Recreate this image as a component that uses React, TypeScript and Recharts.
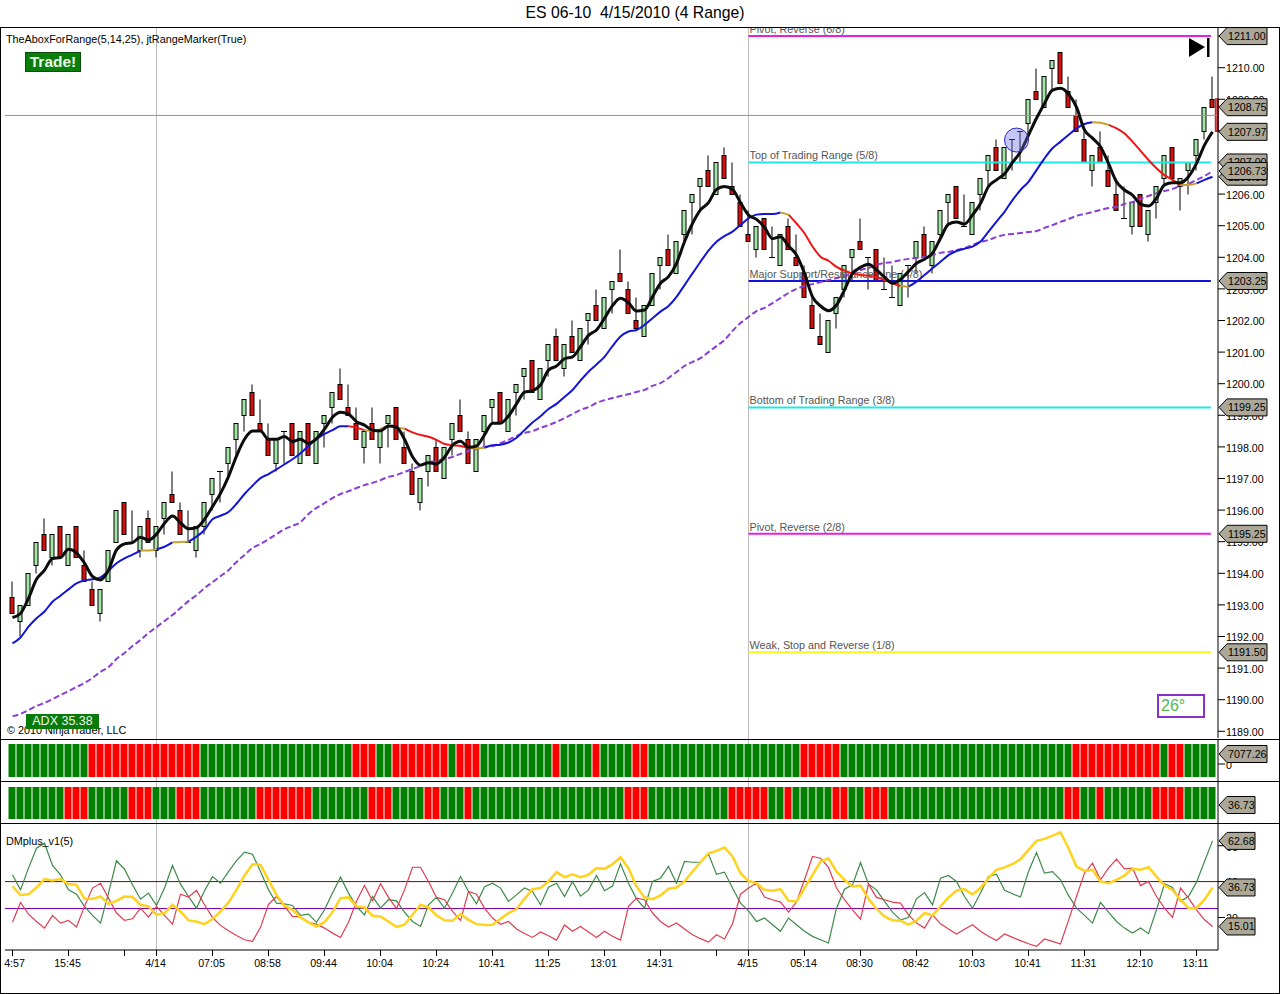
import React from 'react';
import { Bar, Cell, ComposedChart, Line, ReferenceArea, ReferenceDot, ReferenceLine, XAxis, YAxis } from 'recharts';

const FONT = '"Liberation Sans", Arial, sans-serif';

// OHLC of the 4 range bars
const opens = [
  1193.25,1192.5,1193,1194.25,1195.25,1194.5,1195.5,1194.25,1195.5,1194.25,
  1193.5,1192.75,1193.75,1195,1196.25,1195,1194.75,1195.75,1194.75,1195.75,
  1196.5,1196,1195,1194.75,1195.5,1196.5,1197.25,1197.5,1198.25,1199,
  1199.75,1198.75,1198.25,1197.5,1198.5,1198.75,1197.5,1198.75,1197.5,1198.75,
  1199.25,1200,1199.25,1198.75,1198,1198.75,1198,1198.75,1199.25,1198,
  1197.25,1196.25,1197.25,1198,1197,1198.25,1199,1198.25,1197.25,1198.5,
  1199.25,1199.75,1198.5,1199.75,1200.25,1200.75,1199.5,1200.75,1201.5,1200.5,
  1201.5,1200.75,1202,1202.5,1201.75,1203,1203.5,1203,1202,1201.5,
  1202.5,1203.75,1204.25,1203.5,1204.75,1205.75,1206.25,1206.75,1206,1207.25,
  1206.25,1205.75,1204.75,1204.25,1205.25,1204,1203.75,1205,1204,1203.5,
  1202.5,1201.5,1201,1202.25,1203,1204,1204.5,1204,1204.25,1203,
  1202.75,1202.5,1203.75,1204,1204.75,1203.75,1204.75,1205.75,1206.25,1205,
  1204.75,1206,1206.75,1207.5,1206.5,1207.75,1208,1208.25,1209.25,1208.75,
  1210,1210.5,1209.25,1208.5,1207.75,1206.75,1207.5,1206.75,1206,1205.25,
  1205,1206,1204.75,1205.75,1206.5,1207.5,1206.25,1206.75,1207.25,1208,1209,
];
const closes = [
  1192.75,1193,1194,1195,1194.75,1195.25,1194.5,1195.25,1194.5,1193.75,
  1193,1193.5,1194.75,1196,1195.25,1195,1195.5,1195,1195.5,1196.25,
  1196.25,1195.25,1195,1195.5,1196.25,1197,1197.25,1198,1198.75,1199.5,
  1199,1198.5,1197.75,1198.25,1198.5,1197.75,1198.5,1197.75,1198.5,1199,
  1199.75,1199.5,1199,1198.25,1198.5,1198.25,1198.5,1199,1198.25,1197.5,
  1196.5,1197,1197.75,1197.25,1198,1198.75,1198.5,1197.5,1198.25,1199,
  1199.5,1198.75,1199.5,1200,1200.5,1199.75,1200.5,1201.25,1200.75,1201.25,
  1201,1201.75,1202.25,1202,1202.75,1203.25,1203.25,1202.25,1201.75,1202.5,
  1203.5,1204,1203.75,1204.5,1205.5,1206,1206.5,1206.25,1207,1206.5,
  1206,1205,1204.5,1205,1204.25,1204,1204.75,1204.25,1203.75,1202.75,
  1201.75,1201.25,1202,1202.75,1203.75,1204.25,1204.25,1204,1203.25,1203,
  1202.75,1203.5,1203.75,1204.5,1204,1204.5,1205.5,1206,1205.25,1205,
  1205.75,1206.5,1207.25,1206.75,1207.5,1207.75,1208,1209,1209,1209.75,
  1210.25,1209.5,1208.75,1208,1207,1207.25,1207,1206.25,1205.5,1205.25,
  1205.75,1205,1205.5,1206.25,1207.25,1206.5,1206.5,1207,1207.75,1208.75,1208.75,
];
const highs = [
  1193.75,1193,1194,1195,1195.75,1195.25,1195.5,1195.25,1195.5,1194.75,
  1193.75,1193.5,1194.75,1196,1196.25,1196,1195.5,1196,1195.5,1196.25,
  1197.25,1196.25,1196,1195.5,1196.25,1197,1197.25,1198,1198.75,1199.5,
  1200,1199.5,1198.75,1198.25,1198.5,1198.75,1198.5,1198.75,1198.5,1199,
  1199.75,1200.5,1200,1199.25,1198.5,1199.25,1198.5,1199,1199.25,1198.5,
  1197.5,1197,1197.75,1198.25,1198,1198.75,1199.5,1198.5,1198.25,1199,
  1199.5,1199.75,1199.5,1200,1200.5,1200.75,1200.5,1201.25,1201.75,1201.25,
  1202,1201.75,1202.25,1203,1202.75,1203.25,1204.25,1203.25,1202.75,1202.5,
  1203.5,1204,1204.75,1204.5,1205.5,1206,1206.5,1207.25,1207,1207.5,
  1207,1206,1205.5,1205,1205.25,1205,1204.75,1205.25,1204.75,1203.75,
  1202.75,1202.25,1202,1202.75,1203.75,1204.25,1205.25,1204,1204.25,1204,
  1203.75,1203.5,1203.75,1204.5,1205,1204.5,1205.5,1206,1206.25,1206,
  1205.75,1206.5,1207.25,1207.75,1207.5,1207.75,1208,1209,1210,1209.75,
  1210.25,1210.5,1209.75,1209,1208,1207.25,1208,1207.25,1206.5,1206.25,
  1205.75,1206,1205.5,1206.25,1207.25,1207.5,1206.5,1207,1207.75,1208.75,1209.75,
];
const lows = [
  1192.75,1192,1193,1194,1194.75,1194.25,1194.5,1194.25,1194.5,1193.75,
  1193,1192.5,1193.75,1195,1195.25,1195,1194.5,1195,1194.5,1195.25,
  1196.25,1195.25,1195,1194.5,1195.25,1196,1196.25,1197,1197.75,1198.5,
  1199,1198.5,1197.75,1197.25,1197.5,1197.75,1197.5,1197.75,1197.5,1198,
  1198.75,1199.5,1199,1198.25,1197.5,1198.25,1197.5,1198,1198.25,1197.5,
  1196.5,1196,1196.75,1197.25,1197,1197.75,1198.5,1197.5,1197.25,1198,
  1198.75,1198.75,1198.5,1199,1199.5,1199.75,1199.5,1200.25,1200.75,1200.25,
  1201,1200.75,1201.25,1202,1201.75,1202.25,1203.25,1202.25,1201.75,1201.5,
  1202.5,1203,1203.75,1203.5,1204.5,1204.75,1205.5,1206.25,1206,1206.5,
  1206,1205,1204.5,1204,1204.25,1204,1203.75,1204.25,1203.75,1202.75,
  1201.75,1201.25,1201,1201.75,1202.75,1203.25,1204.25,1203,1203.25,1203,
  1202.75,1202.5,1202.75,1203.5,1204,1203.5,1204.5,1205,1205.25,1205,
  1204.75,1205.5,1206.25,1206.75,1206.5,1206.75,1207,1207.75,1209,1208.75,
  1209.25,1209.5,1208.75,1208,1207,1206.25,1207,1206.25,1205.5,1205.25,
  1204.75,1205,1204.5,1205.25,1206.25,1206.5,1205.5,1206,1206.75,1207.75,1208.75,
];

// moving averages
const fastMa = [
  1192.6,1192.73,1193.21,1193.81,1194.1,1194.47,1194.5,1194.76,1194.65,1194.32,
  1193.9,1193.79,1194.1,1194.74,1194.93,1194.97,1195.14,1195.05,1195.24,1195.58,
  1195.81,1195.6,1195.41,1195.45,1195.71,1196.11,1196.53,1197.06,1197.71,1198.24,
  1198.5,1198.5,1198.24,1198.24,1198.33,1198.17,1198.24,1198.11,1198.26,1198.56,
  1198.94,1199.1,1199.04,1198.8,1198.69,1198.53,1198.51,1198.66,1198.62,1198.24,
  1197.69,1197.42,1197.5,1197.46,1197.67,1198.05,1198.18,1197.99,1198.03,1198.38,
  1198.75,1198.75,1198.98,1199.36,1199.73,1199.78,1199.96,1200.43,1200.56,1200.79,
  1200.85,1201.17,1201.53,1201.7,1202.07,1202.47,1202.7,1202.56,1202.3,1202.33,
  1202.75,1203.18,1203.39,1203.81,1204.49,1205.07,1205.5,1205.73,1206.15,1206.24,
  1206.15,1205.73,1205.34,1205.2,1204.95,1204.59,1204.65,1204.36,1204.07,1203.49,
  1202.75,1202.46,1202.31,1202.49,1202.97,1203.49,1203.68,1203.78,1203.6,1203.37,
  1203.18,1203.3,1203.55,1203.81,1203.94,1204.13,1204.6,1205.05,1205.12,1205.05,
  1205.34,1205.7,1206.24,1206.45,1206.64,1207,1207.34,1207.87,1208.4,1208.87,
  1209.29,1209.35,1209.17,1208.75,1208.03,1207.77,1207.5,1206.97,1206.39,1206.13,
  1205.97,1205.68,1205.62,1205.87,1206.29,1206.36,1206.36,1206.55,1206.97,1207.55,1207.97,
];
const midMa = [
  1191.78,1191.97,1192.31,1192.58,1192.79,1193.1,1193.29,1193.49,1193.68,1193.77,
  1193.81,1193.87,1194.08,1194.32,1194.47,1194.59,1194.72,1194.72,1194.76,1194.84,
  1194.98,1194.99,1195,1195.16,1195.37,1195.71,1195.82,1195.94,1196.2,1196.51,
  1196.77,1197.01,1197.14,1197.29,1197.45,1197.61,1197.8,1198.03,1198.24,1198.41,
  1198.53,1198.65,1198.65,1198.61,1198.53,1198.51,1198.56,1198.66,1198.61,1198.58,
  1198.46,1198.38,1198.32,1198.22,1198.09,1198.05,1198.03,1197.97,1197.95,1197.97,
  1198.05,1198.07,1198.14,1198.29,1198.53,1198.77,1198.97,1199.2,1199.36,1199.58,
  1199.8,1200.1,1200.38,1200.61,1200.85,1201.19,1201.49,1201.65,1201.7,1201.86,
  1202.07,1202.28,1202.46,1202.75,1203.12,1203.49,1203.86,1204.21,1204.49,1204.67,
  1204.81,1205.02,1205.23,1205.35,1205.37,1205.37,1205.42,1205.35,1205.07,1204.76,
  1204.34,1204.02,1203.89,1203.7,1203.58,1203.49,1203.44,1203.42,1203.37,1203.28,
  1203.18,1203.09,1203.07,1203.23,1203.44,1203.65,1203.86,1204.07,1204.2,1204.27,
  1204.34,1204.5,1204.81,1205.13,1205.44,1205.81,1206.13,1206.39,1206.76,1207.13,
  1207.45,1207.66,1207.87,1208.08,1208.22,1208.27,1208.26,1208.19,1208.08,1207.92,
  1207.66,1207.37,1207.08,1206.82,1206.6,1206.45,1206.29,1206.29,1206.34,1206.45,1206.55,
];
const slowMa = [
  1189.48,1189.55,1189.67,1189.8,1189.9,1190.02,1190.15,1190.27,1190.4,1190.53,
  1190.69,1190.88,1191.03,1191.29,1191.48,1191.7,1191.89,1192.11,1192.3,1192.49,
  1192.68,1192.9,1193.12,1193.31,1193.53,1193.72,1193.91,1194.1,1194.36,1194.58,
  1194.8,1194.93,1195.08,1195.24,1195.4,1195.5,1195.62,1195.88,1196.07,1196.22,
  1196.38,1196.51,1196.6,1196.7,1196.79,1196.86,1196.95,1197.05,1197.11,1197.21,
  1197.3,1197.4,1197.52,1197.55,1197.62,1197.68,1197.78,1197.87,1197.93,1198,
  1198.03,1198.12,1198.22,1198.35,1198.44,1198.5,1198.6,1198.69,1198.79,1198.91,
  1199.04,1199.17,1199.26,1199.39,1199.48,1199.55,1199.61,1199.67,1199.74,1199.8,
  1199.93,1200.02,1200.18,1200.37,1200.56,1200.69,1200.81,1201,1201.19,1201.38,
  1201.67,1201.92,1202.11,1202.3,1202.4,1202.55,1202.71,1202.87,1203,1203.09,
  1203.15,1203.22,1203.28,1203.34,1203.41,1203.5,1203.6,1203.66,1203.76,1203.82,
  1203.85,1203.91,1203.95,1203.98,1204.01,1204.07,1204.14,1204.17,1204.23,1204.29,
  1204.39,1204.48,1204.55,1204.64,1204.71,1204.74,1204.77,1204.8,1204.83,1204.93,
  1205.02,1205.12,1205.21,1205.31,1205.37,1205.43,1205.5,1205.56,1205.59,1205.69,
  1205.75,1205.85,1205.94,1206.03,1206.1,1206.16,1206.26,1206.32,1206.45,1206.57,1206.73,
];
// runs of bars where midMa is rising, turning or falling
const midMaUp = [[0,16],[18,20],[22,42],[46,47],[59,96],[112,135],[148,150]];
const midMaTurn = [[16,18],[20,22],[44,46],[47,49],[57,59],[96,97],[111,112],[135,137],[146,148]];
const midMaDown = [[42,44],[49,57],[97,111],[137,146]];

// trading range levels
const levels = [
  { price: 1211, name: 'Pivot, Reverse (6/8)', kind: 'pivot' },
  { price: 1207, name: 'Top of Trading Range (5/8)', kind: 'range' },
  { price: 1203.25, name: 'Major Support/Resistance Line (4/8)', kind: 'major' },
  { price: 1199.25, name: 'Bottom of Trading Range (3/8)', kind: 'range' },
  { price: 1195.25, name: 'Pivot, Reverse (2/8)', kind: 'pivot' },
  { price: 1191.5, name: 'Weak, Stop and Reverse (1/8)', kind: 'weak' },
];
const priceTags = [1211, 1203.25, 1199.25, 1195.25, 1191.5, 1208.75, 1207.97, 1206.55, 1207, 1206.73];
const priceTicks = [1189,1190,1191,1192,1193,1194,1195,1196,1197,1198,1199,1200,1201,1202,1203,1204,1205,1206,1207,1208,1209,1210,1211];
const lastPriceLine = 1208.49;
const formingBar = [1209, 1208];
const markerBar = 125.5;
const markerPrice = 1207.71;

// red runs of the two colour strips, everything else is green
const stripOneRed = [[10,23],[43,45],[48,54],[56,58],[68,68],[73,73],[78,79],[99,103],[133,143],[145,146]];
const stripTwoRed = [[7,9],[15,17],[21,23],[31,37],[45,47],[52,53],[57,57],[77,79],[90,94],[97,97],[103,104],[107,109],[132,133],[136,136],[143,146]];

// DMplus panel
const dmPlus = [
  43.8,35.4,47.5,58.6,61.4,49,43.8,35.4,33,26.2,
  21.2,16.9,33.6,51.6,46.9,38.2,30.2,33.6,26.7,36.4,
  49,38.6,31.7,25.2,34.9,42.8,39.1,45.6,51.7,56.4,
  55.3,45.6,35.4,28,27.6,26.7,21.2,21.9,17.3,24.3,
  33.6,42.5,33.6,26.2,21.5,31.7,25.2,29.9,29.3,23,
  17.8,15,27.1,31.2,25.2,33.6,42.8,34.5,27.6,37.1,
  39.1,36.4,29,32.6,36.4,34.5,27.1,36.9,39.1,31.7,
  40.1,31.9,35.4,43.4,34.9,37.5,49.9,39.1,30.4,25.2,
  40.1,41.9,48.4,39.1,51.2,50.8,50.8,55.3,44.1,45.3,
  36.4,28,23.7,17.8,19.7,16,12.3,19.7,16,12.3,
  9.5,7.6,5.8,25.2,35.8,38.2,50.6,38.6,35.4,29,
  23,18.7,20,30.4,33.9,27.1,41.9,43.4,40.1,31.7,
  25.2,33.6,42.8,44.1,35.2,33.2,31.4,45.6,56.2,44.7,
  45.6,41,32.3,25.2,21.2,16.9,28.4,23,17.8,14.1,
  11.3,14.1,11,24.3,38.8,36.7,29,31.7,39.7,51.2,62.68,
];
const dmMinus = [
  17.3,28.4,21.9,17.8,14.1,21.2,16.9,18.4,14.7,26.2,
  36.4,39.1,30.8,22.5,18.4,19.3,25.2,20.2,26.2,21.2,
  16.3,33,31.4,35.1,27.1,20,15.6,12.6,10,7.6,
  6.7,14.5,27.4,31.7,26.2,20.6,20.4,17.3,16.3,14.1,
  11.3,8.9,17.4,29,37.8,29.3,38.8,31.2,24.9,35.4,
  48,48,40.1,31.2,29.9,23.4,18.4,34.5,33,25.2,
  19.7,16.2,17.8,13.6,11.1,8.9,11.9,9.8,7.4,15.8,
  12.3,15,11.9,8.9,12.3,9.5,7.4,26.2,30.8,29.9,
  22.5,17.8,14.7,16.9,13.6,10.4,8.2,6.3,10.4,8,
  16.5,33,36.4,39.1,31.4,29.9,28.6,23,28.6,41,
  54,53,47.9,36.4,29.9,24.3,19.1,38.6,31.2,29.9,
  28.6,28,21.5,16.9,14.1,21.5,16.5,13.6,10.8,13.4,
  16,12.3,9.5,7.2,10.8,8.9,7.1,5.4,3.9,8,
  6.7,5.2,18.4,31.7,44.7,50.3,41,47.5,52.5,47.1,
  47.5,37.8,40.1,31.7,25.2,20,36.4,30.8,24.3,18.7,15.01,
];
const dmAverage = [
  37.3,32.6,33,36.7,41.4,40.6,41.4,38.6,38.2,30.4,
  30.4,31.7,27.6,29.3,31.7,31.4,27.1,26.2,21.5,22.5,
  27.1,23.4,18.4,17.8,16.3,19.1,23.4,28.4,35.4,43.4,
  49.7,49.3,41,32.6,26.5,24.3,20,17.3,15,17.4,
  23,30.8,31.2,26.2,25.6,21,20.6,17.8,14.8,16,
  21.5,27.1,25.6,21.2,18.4,18.2,21.9,18.7,16.3,15.8,
  16,19.3,22.5,24.7,30.4,35.8,36.4,40.1,45.3,42.5,
  44,42.5,43.8,47.5,47.1,49.7,53.6,47.5,37.3,31.2,
  30.2,32.3,36,36.7,40.1,45.6,50.8,55.8,57.1,59,
  54,44.7,40.4,39.1,35.4,34.9,35.8,29.3,28.9,36.4,
  43.8,51.2,53,45.6,41,37.3,37.8,30.4,24.9,20.6,
  18.4,18.2,16,18.2,22.5,21.2,26.2,31.2,34.9,35.8,
  32.8,36.4,41.9,46.6,47.9,49.7,52.5,57.7,62.7,63.8,
  65.6,67.5,58.6,48.4,46,46.6,40.1,39.1,41,43.4,
  47.1,46.6,48,42.8,37.8,35.4,29.9,25.2,25.2,29.9,36.73,
];
const dmUpperLine = 40;
const dmLowerLine = 25;
const dmTicks = [20, 40, 60];
const dmTags = [62.68, 36.73, 15.01];

// x axis
const timeTickBars = [0,7,14,18,25,32,39,46,53,60,67,74,81,88,92,99,106,113,120,127,134,141,148];
const timeTickLabels = ['4:57','15:45','','4/14','07:05','08:58','09:44','10:04','10:24','10:41','11:25','13:01','14:31','','4/15','05:14','08:30','08:42','10:03','10:41','11:31','12:10','13:11'];
const sessionBreaks = [18, 92];

const inRuns = (i: number, runs: number[][]) => runs.some(([a, b]) => i >= a && i <= b);

const barData = opens.map((open, i) => ({
  i,
  open,
  close: closes[i],
  high: highs[i],
  low: lows[i],
  range: [lows[i], highs[i]],
  fastMa: fastMa[i],
  slowMa: slowMa[i],
  midUp: inRuns(i, midMaUp) ? midMa[i] : null,
  midTurn: inRuns(i, midMaTurn) ? midMa[i] : null,
  midDown: inRuns(i, midMaDown) ? midMa[i] : null,
  stripOne: [-13, 20],
  stripTwo: [-13, 19],
  dmPlus: dmPlus[i],
  dmMinus: dmMinus[i],
  dmAverage: dmAverage[i],
}));

const X_DOMAIN: [number, number] = [-0.9375, 150.6875];
const X_END = X_DOMAIN[1];
const LEVEL_END = 149.8;
const CHART_WIDTH = 1280;
const PRICE_DOMAIN: [number, number] = [1188.788, 1211.256];
const STRIP_DOMAIN: [number, number] = [-17, 24];
const DM_DOMAIN: [number, number] = [1.89, 72.1];
const TEXT_SIZE = 10.8;

const levelColors: Record<string, string> = { pivot: '#e81ee8', range: '#22e6e6', major: '#1212d8', weak: '#f6f622' };
const axisTick = { fill: '#000', fontSize: 10.67, fontFamily: FONT, dy: 1 };

const Candle = (props: any) => {
  const { x, y, width, height, payload } = props;
  const cx = x + width / 2;
  const top = Math.min(y, y + height);
  const pxPerPoint = Math.abs(height) / (payload.high - payload.low);
  const yOf = (v: number) => Math.round(top + (payload.high - v) * pxPerPoint) + 0.5;
  const bodyTop = yOf(Math.max(payload.open, payload.close));
  const bodyBottom = yOf(Math.min(payload.open, payload.close));
  const doji = payload.open === payload.close;
  return (
    <g>
      <line x1={cx} x2={cx} y1={yOf(payload.high)} y2={yOf(payload.low)} stroke="#000" />
      {doji ? (
        <line x1={cx - 3} x2={cx + 3} y1={bodyTop} y2={bodyTop} stroke="#000" />
      ) : (
        <rect
          x={cx - 2}
          y={bodyTop}
          width={4}
          height={bodyBottom - bodyTop}
          fill={payload.close > payload.open ? '#a2e6a6' : '#dc0c0c'}
          stroke="#000"
        />
      )}
    </g>
  );
};

const Tag = (props: any) => {
  const { cx, cy, label, width } = props;
  const x = cx + 1;
  const h = 8.5;
  return (
    <g>
      <path
        d={`M${x} ${cy} L${x + 8} ${cy - h} L${x + width} ${cy - h} L${x + width} ${cy + h} L${x + 8} ${cy + h} Z`}
        fill="#aca899"
        stroke="#000"
      />
      <text x={x + 9} y={cy + 4} fontSize={10.67} fontFamily={FONT} fill="#000">{label}</text>
    </g>
  );
};

const LevelLabel = (props: any) => (
  <text x={props.viewBox.x + 1} y={props.viewBox.y - 3} fontSize={TEXT_SIZE} fontFamily={FONT} fill="#555">{props.text}</text>
);

const TimeTick = (props: any) => {
  const { x, y, payload, index } = props;
  return (
    <text x={x + (index === 0 ? 2 : -1)} y={y + 8} textAnchor="middle" fontSize={10.67} fontFamily={FONT} fill="#000">
      {timeTickLabels[timeTickBars.indexOf(payload.value)]}
    </text>
  );
};

const XHidden = () => <XAxis dataKey="i" type="number" domain={X_DOMAIN} hide />;
// a chart with no series draws no reference marks, so the layers carry this unstroked one
const Carrier = () => <Line dataKey="i" stroke="none" dot={false} isAnimationActive={false} />;

// the grey session lines lie under every panel
const SessionLines = () => (
  <div style={{ position: 'absolute', left: 0, top: 28 }}>
    <ComposedChart width={CHART_WIDTH} height={922} data={barData} margin={{ top: 0, right: 62, bottom: 0, left: 5 }}>
      {XHidden()}
      <YAxis hide type="number" domain={[0, 1]} allowDataOverflow />
      {Carrier()}
      {sessionBreaks.map((b) => <ReferenceLine key={b} x={b} stroke="#bdbdbd" />)}
    </ComposedChart>
  </div>
);

// value tags lie over the axis labels, so they get a chart of their own
const TagLayer = ({ top, height, bottom = 0, plotTop = 0, domain, tags }: any) => (
  <div style={{ position: 'absolute', left: 0, top }}>
    <ComposedChart width={CHART_WIDTH} height={height} data={barData} margin={{ top: plotTop, right: 62, bottom, left: 5 }}>
      {XHidden()}
      <YAxis hide type="number" domain={domain} allowDataOverflow />
      {Carrier()}
      {tags.map((t: any) => (
        <ReferenceDot key={t.y} x={X_END} y={t.y} r={0} shape={(s: any) => <Tag {...s} label={t.label} width={t.width} />} />
      ))}
    </ComposedChart>
  </div>
);

const StripChart = ({ top, dataKey, redRuns, tick }: any) => (
  <div style={{ position: 'absolute', left: 0, top }}>
    <ComposedChart width={CHART_WIDTH} height={41} data={barData} margin={{ top: 0, right: 0, bottom: 0, left: 5 }}>
      {XHidden()}
      <YAxis
        orientation="right"
        width={62}
        type="number"
        domain={STRIP_DOMAIN}
        ticks={tick}
        tickSize={7}
        tickMargin={1}
        interval={0}
        stroke="#000"
        tick={axisTick}
      />
      <Bar dataKey={dataKey} barSize={7} isAnimationActive={false}>
        {barData.map((d) => <Cell key={d.i} fill={inRuns(d.i, redRuns) ? '#ff0000' : '#007f00'} />)}
      </Bar>
    </ComposedChart>
  </div>
);

const PriceChart = () => (
  <div style={{ position: 'absolute', left: 0, top: 0 }}>
    <ComposedChart width={CHART_WIDTH} height={739} data={barData} margin={{ top: 28, right: 0, bottom: 1, left: 5 }}>
      {XHidden()}
      <YAxis
        orientation="right"
        width={62}
        type="number"
        domain={PRICE_DOMAIN}
        ticks={priceTicks}
        interval={0}
        tickSize={7}
        tickMargin={1}
        stroke="#000"
        tick={axisTick}
        tickFormatter={(v: number) => v.toFixed(2)}
      />
      <ReferenceLine y={lastPriceLine} stroke="#c47f6e" />
      {levels.map((l) => (
        <ReferenceLine
          key={l.price}
          segment={[{ x: 92, y: l.price }, { x: LEVEL_END, y: l.price }]}
          stroke={levelColors[l.kind]}
          strokeWidth={2}
          label={(p: any) => <LevelLabel {...p} text={l.name} />}
        />
      ))}
      <Bar dataKey="range" barSize={7} shape={<Candle />} isAnimationActive={false} />
      <Line dataKey="slowMa" type="monotone" stroke="#8a3ed2" strokeWidth={2} strokeDasharray="6 3" dot={false} isAnimationActive={false} />
      <Line dataKey="midUp" type="monotone" stroke="#1414d6" strokeWidth={2} dot={false} isAnimationActive={false} />
      <Line dataKey="midDown" type="monotone" stroke="#f01414" strokeWidth={2} dot={false} isAnimationActive={false} />
      <Line dataKey="midTurn" type="monotone" stroke="#c9a02e" strokeWidth={2} dot={false} isAnimationActive={false} />
      <Line dataKey="fastMa" type="monotone" stroke="#0c0c0c" strokeWidth={3} dot={false} isAnimationActive={false} />
      <ReferenceDot x={markerBar} y={markerPrice} r={12} fill="#6a6ae6" fillOpacity={0.38} stroke="#2a2ad0" />
      <ReferenceArea x1={150.41} x2={X_END} y1={formingBar[1]} y2={formingBar[0]} fill="none" stroke="#c0282c" strokeWidth={2} />
    </ComposedChart>
  </div>
);

const DmChart = () => (
  <div style={{ position: 'absolute', left: 0, top: 824 }}>
    <ComposedChart width={CHART_WIDTH} height={170} data={barData} margin={{ top: 0, right: 0, bottom: 0, left: 5 }}>
      <XAxis
        dataKey="i"
        type="number"
        domain={X_DOMAIN}
        ticks={timeTickBars}
        interval={0}
        height={44}
        tickSize={6}
        tickMargin={3}
        stroke="#000"
        tick={<TimeTick />}
      />
      <YAxis
        orientation="right"
        width={62}
        type="number"
        domain={DM_DOMAIN}
        ticks={dmTicks}
        interval={0}
        tickSize={7}
        tickMargin={1}
        stroke="#000"
        tick={axisTick}
      />
      <ReferenceLine y={dmUpperLine} stroke="#800000" />
      <ReferenceLine y={dmLowerLine} stroke="#8000b0" />
      <Line dataKey="dmPlus" stroke="#3c8a4a" strokeWidth={1.2} dot={false} isAnimationActive={false} />
      <Line dataKey="dmMinus" stroke="#e03c52" strokeWidth={1.2} dot={false} isAnimationActive={false} />
      <Line dataKey="dmAverage" stroke="#ffd21e" strokeWidth={2.5} dot={false} isAnimationActive={false} />
    </ComposedChart>
  </div>
);

const abs = (left: number, top: number, extra: React.CSSProperties = {}): React.CSSProperties => ({
  position: 'absolute',
  left,
  top,
  fontFamily: FONT,
  whiteSpace: 'pre',
  ...extra,
});

const priceTagList = priceTags.map((p) => ({ y: p, label: p.toFixed(2), width: 48 }));
const dmTagList = dmTags.map((p) => ({ y: p, label: p.toFixed(2), width: 36 }));

export default function App() {
  return (
    <div style={{ position: 'fixed', left: 0, top: 0, width: 1280, height: 994, background: '#fff', overflow: 'hidden' }}>
      <SessionLines />
      <PriceChart />
      <StripChart top={740} dataKey="stripOne" redRuns={stripOneRed} tick={[0]} />
      <StripChart top={782} dataKey="stripTwo" redRuns={stripTwoRed} tick={[]} />
      <DmChart />
      <TagLayer top={0} height={739} plotTop={28} bottom={1} domain={PRICE_DOMAIN} tags={priceTagList} />
      <TagLayer top={740} height={41} domain={STRIP_DOMAIN} tags={[{ y: 10, label: '7077.26', width: 48 }]} />
      <TagLayer top={782} height={41} domain={STRIP_DOMAIN} tags={[{ y: 1, label: '36.73', width: 36 }]} />
      <TagLayer top={824} height={170} bottom={44} domain={DM_DOMAIN} tags={dmTagList} />

      {/* frame and title */}
      <div style={abs(0, 0, { width: 1280, height: 27, background: '#fff' })} />
      <div style={abs(0, 27, { width: 1280, height: 967, border: '1px solid #000', boxSizing: 'border-box' })} />
      <div style={abs(0, 739, { width: 1280, height: 1, background: '#000' })} />
      <div style={abs(0, 781, { width: 1280, height: 1, background: '#000' })} />
      <div style={abs(0, 823, { width: 1280, height: 1, background: '#000' })} />
      <div style={abs(0, 4, { width: 1270, textAlign: 'center', fontSize: 15.75, color: '#000' })}>{'ES 06-10  4/15/2010 (4 Range)'}</div>

      {/* chart annotations */}
      <div style={abs(6, 33, { fontSize: TEXT_SIZE, color: '#000' })}>TheAboxForRange(5,14,25), jtRangeMarker(True)</div>
      <div style={abs(25, 52, { width: 56, height: 20, boxSizing: 'border-box', background: '#0a7d0a', border: '1px solid #064f06', color: '#e8f8e8', fontSize: 15.5, fontWeight: 'bold', textAlign: 'center', lineHeight: '18px' })}>Trade!</div>
      <div style={abs(7, 724, { fontSize: TEXT_SIZE, color: '#000' })}>© 2010 NinjaTrader, LLC</div>
      <div style={abs(26, 714, { width: 73, height: 15, background: '#0a7a0a', color: '#e8f8e8', fontSize: 12.5, textAlign: 'center', lineHeight: '15px' })}>ADX 35.38</div>
      <div style={abs(1157, 694, { width: 48, height: 24, boxSizing: 'border-box', border: '2px solid #8a30c8', color: '#52b852', fontSize: 16, paddingLeft: 2, lineHeight: '19px' })}>26°</div>
      <div style={abs(6, 835, { fontSize: TEXT_SIZE, color: '#000' })}>DMplus_v1(5)</div>
      <svg style={abs(1186, 36)} width={26} height={24}>
        <path d="M3 2 L19 11 L3 21 Z" fill="#000" />
        <rect x={21} y={2} width={2.5} height={19} fill="#000" />
      </svg>
    </div>
  );
}
